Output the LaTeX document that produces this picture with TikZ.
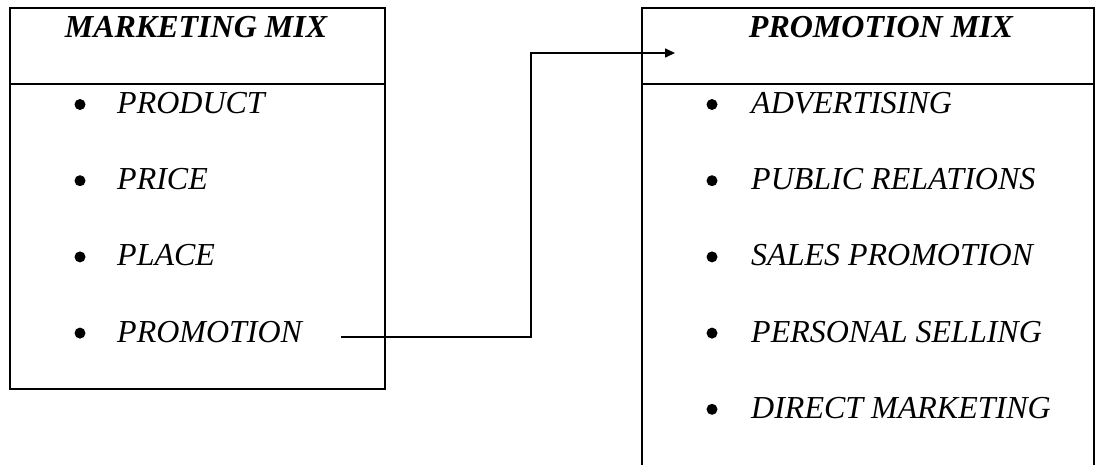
\documentclass[tikz,border=0pt]{standalone}
\usepackage{fontspec}
\setmainfont{Liberation Serif}
\usepackage{tikz}
\usetikzlibrary{arrows.meta, positioning, calc}

\newcommand{\mixfont}{\fontsize{32}{37}\selectfont\itshape}

\begin{document}
\begin{tikzpicture}[x=1pt, y=-1pt,
    box/.style={draw, line width=2.6pt},
    link/.style={draw, line width=1.6pt},
    head/.style={font=\mixfont\bfseries, anchor=base, inner sep=0pt},
    item/.style={font=\mixfont, anchor=base west, inner sep=0pt}]
    \useasboundingbox (0,0) rectangle (1100,464);
    \clip (0,0) rectangle (1100,464);
    % marketing mix box
    \draw[box] (10,8) rectangle (385,389);
    \draw[box] (10,84) -- (385,84);
    \node[head] (mmtitle) at (196,37) {MARKETING MIX};
    \foreach \name/\txt [count=\i] in {product/PRODUCT, price/PRICE, place/PLACE, promotion/PROMOTION}{
        \node[item] (\name) at (117,113.5+76.2*\i-76.2) {\txt};
        \fill ([xshift=-37pt, yshift=9pt]\name.base west) circle (5.5pt);
    }
    % promotion mix box (runs off the page)
    \draw[box] (642,8) rectangle (1094,520);
    \draw[box] (642,84) -- (1094,84);
    \node[head] (pmtitle) at (881,37) {PROMOTION MIX};
    \foreach \name/\txt [count=\i] in {advert/ADVERTISING, pubrel/PUBLIC RELATIONS, salesprom/SALES PROMOTION, personal/PERSONAL SELLING, direct/DIRECT MARKETING}{
        \node[item] (\name) at (751,113.5+76.2*\i-76.2) {\txt};
        \fill ([xshift=-39pt, yshift=9pt]\name.base west) circle (5.5pt);
    }
    % promotion feeds the promotion mix
    \coordinate (promout) at ($(promotion.base east)+(39,-5)$);
    \coordinate (pmin) at (675,53);
    \draw[link, -{Triangle[length=10pt, width=9pt]}] (promout) -- ++(190,0) |- (pmin);
\end{tikzpicture}
\end{document}
